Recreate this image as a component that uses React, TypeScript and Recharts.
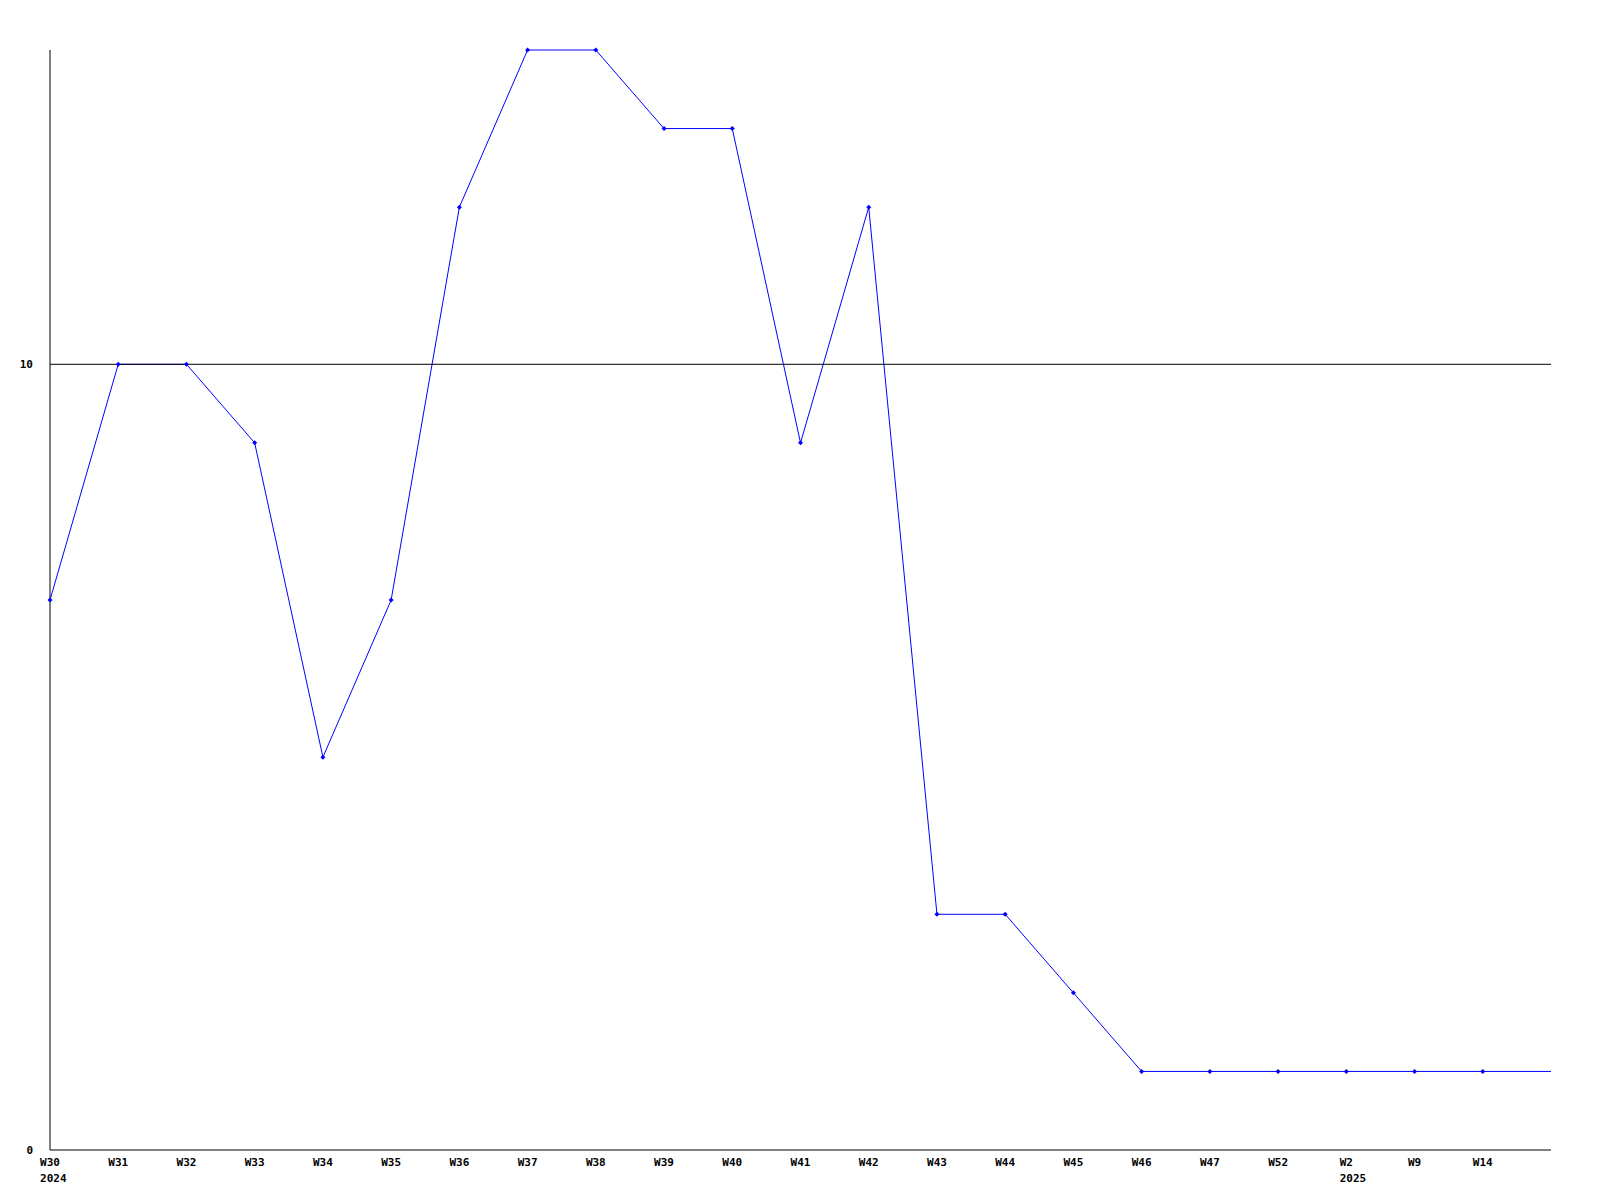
import { LineChart, Line, XAxis, YAxis, ReferenceLine } from "recharts"

// weekly values
const weeks = ["W30", "W31", "W32", "W33", "W34", "W35", "W36", "W37", "W38", "W39", "W40", "W41", "W42", "W43", "W44", "W45", "W46", "W47", "W52", "W2", "W9", "W14", ""]
const years = ["2024", "", "", "", "", "", "", "", "", "", "", "", "", "", "", "", "", "", "", "2025", "", "", ""]
const counts = [7, 10, 10, 9, 5, 7, 12, 14, 14, 13, 13, 9, 12, 3, 3, 2, 1, 1, 1, 1, 1, 1, 1]
const yTicks = [0, 10]

const data = weeks.map((w, i) => ({ week: w, year: years[i], value: counts[i], idx: i }))

const FONT = "'DejaVu Sans Mono', monospace"
const CHAR_W = 6.62 // 11px mono advance

const WeekTick = ({ x, y, payload }: any) => {
  const i = payload.index
  // year sits under the week label, flush with its left edge
  const left = x - (weeks[i].length * CHAR_W) / 2
  return (
    <g>
      <text x={x} y={y + 8} textAnchor="middle" fontFamily={FONT} fontSize={11} fontWeight="bold" fill="#000">
        {weeks[i]}
      </text>
      {years[i] && (
        <text x={left} y={y + 24} textAnchor="start" fontFamily={FONT} fontSize={11} fontWeight="bold" fill="#000">
          {years[i]}
        </text>
      )}
    </g>
  )
}

const ValueTick = ({ x, y, payload }: any) => (
  <text x={x - 9} y={y + 4} textAnchor="end" fontFamily={FONT} fontSize={11} fontWeight="bold" fill="#000">
    {payload.value}
  </text>
)

const Marker = ({ cx, cy, index }: any) => {
  if (index === counts.length - 1) return <g key={index} />
  return (
    <path
      key={index}
      d={`M${cx - 2.5},${cy} L${cx},${cy - 2.5} L${cx + 2.5},${cy} L${cx},${cy + 2.5} Z`}
      fill="#0000ff"
      stroke="none"
    />
  )
}

export default function App() {
  return (
    <div style={{ position: "absolute", left: 0, top: 0, background: "#fff" }}>
      <LineChart width={1600} height={1200} data={data} margin={{ top: 50, right: 49, left: 0, bottom: 0 }}>
        <XAxis
          dataKey="idx"
          type="category"
          height={50}
          interval={0}
          tickLine={false}
          axisLine={{ stroke: "#000" }}
          tick={<WeekTick />}
        />
        <YAxis
          width={50}
          domain={[0, 14]}
          ticks={yTicks}
          tickLine={false}
          axisLine={{ stroke: "#000" }}
          tick={<ValueTick />}
        />
        <Line
          dataKey="value"
          stroke="#0000ff"
          strokeWidth={1}
          dot={<Marker />}
          activeDot={false}
          isAnimationActive={false}
        />
        {/* the 10 line sits on top of the series, as in the original */}
        <ReferenceLine y={10} stroke="#000" />
      </LineChart>
    </div>
  )
}
